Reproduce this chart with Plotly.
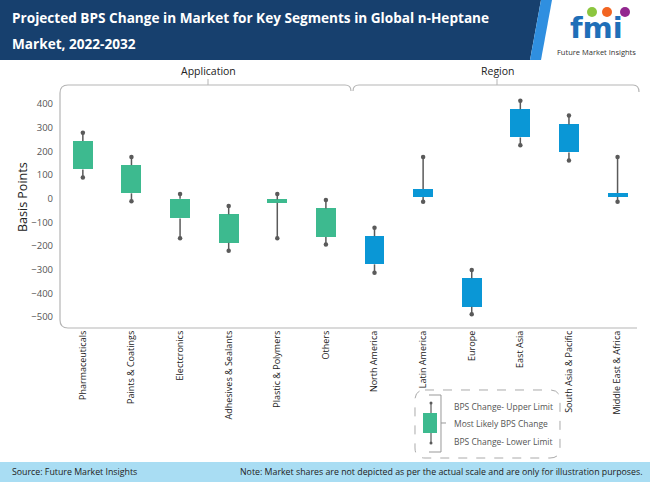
import plotly.graph_objects as go

categories = ["Pharmaceuticals", "Paints & Coatings", "Electronics", "Adhesives & Sealants",
              "Plastic & Polymers", "Others", "North America", "Latin America", "Europe",
              "East Asia", "South Asia & Pacific", "Middle East & Africa"]
tick_labels = ["Pharmaceuticals", "Paints & Coatings", "Electcronics", "Adhesives & Sealants",
               "Plastic & Polymers", "Others", "North America", "Latin America", "Europe",
               "East Asia", "South Asia & Pacific", "Middle East & Africa"]
segment = ["Application"] * 6 + ["Region"] * 6
upper = [279, 177, 20, -31, 20, -5, -122, 177, -301, 414, 352, 177]
box_top = [244, 142, 0, -66, -3, -41, -158, 41, -336, 378, 314, 24]
box_bottom = [124, 23, -83, -186, -17, -161, -277, 8, -456, 259, 196, 8]
lower = [90, -10, -167, -220, -167, -193, -313, -13, -488, 226, 162, -13]
y_ticks = [-500, -400, -300, -200, -100, 0, 100, 200, 300, 400]

GREEN = "#3dba8f"
BLUE = "#0a97d6"
WHISK = "#5a5a5a"
colors = [GREEN if s == "Application" else BLUE for s in segment]

W, H = 650, 482
L, R, T, B = 60, 13, 88, 154
PW, PH = W - L - R, H - T - B


def fx(px):
    return (px - L) / PW


def fy(py):
    return (H - B - py) / PH


def P(x, y):
    return f"{fx(x):.5f},{fy(y):.5f}"


fig = go.Figure()

# whiskers (upper and lower segments)
wx, wy = [], []
for c, u, bt, bb, lo in zip(categories, upper, box_top, box_bottom, lower):
    wx += [c, c, None, c, c, None]
    wy += [u, bt, None, bb, lo, None]
fig.add_trace(go.Scatter(x=wx, y=wy, mode="lines", line=dict(color=WHISK, width=1.5),
                         hoverinfo="skip", showlegend=False))
fig.add_trace(go.Scatter(x=categories + categories, y=upper + lower, mode="markers",
                         marker=dict(color=WHISK, size=4.5), hoverinfo="skip", showlegend=False))

fig.add_trace(go.Bar(x=categories, y=[t - b for t, b in zip(box_top, box_bottom)], base=box_bottom,
                     width=0.41, marker=dict(color=colors, line=dict(width=0)), showlegend=False))

shapes = []
line_col = "#b5b5b5"
# header
shapes.append(dict(type="path", xref="paper", yref="paper", layer="above",
                   path=f"M{P(0,0)} L{P(541,0)} L{P(530,60)} L{P(0,60)} Z",
                   fillcolor="#17406e", line=dict(width=0)))
shapes.append(dict(type="path", xref="paper", yref="paper", layer="above",
                   path=f"M{P(541,0)} L{P(552,0)} L{P(541,60)} L{P(530,60)} Z",
                   fillcolor="#2f8fe0", line=dict(width=0)))
# footer
shapes.append(dict(type="rect", xref="paper", yref="paper", layer="below",
                   x0=fx(0), x1=fx(650), y0=fy(482), y1=fy(462),
                   fillcolor="#a9ddf3", line=dict(width=0)))
# axis frame + brackets
shapes.append(dict(type="path", xref="paper", yref="paper",
                   path=f"M{P(68,328)} Q{P(60,328)} {P(60,320)} L{P(60,93)} Q{P(60,85)} {P(68,85)} "
                        f"L{P(345,85)} Q{P(351,85)} {P(351,91)}",
                   line=dict(color=line_col, width=1.2)))
shapes.append(dict(type="path", xref="paper", yref="paper",
                   path=f"M{P(353,91)} Q{P(353,85)} {P(359,85)} L{P(633,85)} Q{P(639,85)} {P(639,92)}",
                   line=dict(color=line_col, width=1.2)))
shapes.append(dict(type="line", xref="paper", yref="paper", x0=fx(68), x1=fx(637), y0=fy(328), y1=fy(328),
                   line=dict(color=line_col, width=1.2)))
shapes.append(dict(type="line", xref="paper", yref="paper", x0=fx(208), x1=fx(208), y0=fy(85), y1=fy(79),
                   line=dict(color=line_col, width=1)))
shapes.append(dict(type="line", xref="paper", yref="paper", x0=fx(497), x1=fx(497), y0=fy(85), y1=fy(79),
                   line=dict(color=line_col, width=1)))
# legend box
shapes.append(dict(type="path", xref="paper", yref="paper",
                   path=f"M{P(425,390)} L{P(550,390)} Q{P(560,390)} {P(560,400)} L{P(560,448)} "
                        f"Q{P(560,458)} {P(550,458)} L{P(425,458)} Q{P(415,458)} {P(415,448)} "
                        f"L{P(415,400)} Q{P(415,390)} {P(425,390)} Z",
                   line=dict(color="#aaaaaa", width=1, dash="dash")))
shapes.append(dict(type="line", xref="paper", yref="paper", x0=fx(431), x1=fx(431), y0=fy(403), y1=fy(443),
                   line=dict(color=WHISK, width=1.2)))
shapes.append(dict(type="rect", xref="paper", yref="paper", x0=fx(423), x1=fx(437), y0=fy(433), y1=fy(413),
                   fillcolor=GREEN, line=dict(width=0)))
for yy in (403, 443):
    shapes.append(dict(type="circle", xref="paper", yref="paper", x0=fx(429.5), x1=fx(432.5),
                       y0=fy(yy + 1.5), y1=fy(yy - 1.5), fillcolor=WHISK, line=dict(width=0)))
shapes.append(dict(type="path", xref="paper", yref="paper",
                   path=f"M{P(429,395)} L{P(441,395)} L{P(441,452)} L{P(429,452)} M{P(441,423)} L{P(446,423)}",
                   line=dict(color="#999999", width=1)))
# logo circles
for cx, col in ((592, "#8cc63f"), (607, "#f26522"), (625, "#92278f")):
    shapes.append(dict(type="circle", xref="paper", yref="paper", x0=fx(cx - 5), x1=fx(cx + 5),
                       y0=fy(17), y1=fy(7), fillcolor=col, line=dict(width=0)))

ann = []
FONT = "Open Sans"
ann.append(dict(text="<b>Projected BPS Change in Market for Key Segments in Global n-Heptane</b>",
                x=fx(10), y=fy(18), xref="paper", yref="paper", xanchor="left", yanchor="middle",
                showarrow=False, font=dict(family=FONT, size=13.6, color="white")))
ann.append(dict(text="<b>Market, 2022-2032</b>",
                x=fx(10), y=fy(43), xref="paper", yref="paper", xanchor="left", yanchor="middle",
                showarrow=False, font=dict(family=FONT, size=13.6, color="white")))
ann.append(dict(text="<b>fmi</b>", x=fx(596), y=fy(28), xref="paper", yref="paper",
                xanchor="center", yanchor="middle", showarrow=False,
                font=dict(family="DejaVu Sans", size=29, color="#1f6fb8")))
ann.append(dict(text="Future Market Insights", x=fx(596), y=fy(52), xref="paper", yref="paper",
                xanchor="center", yanchor="middle", showarrow=False,
                font=dict(family=FONT, size=7.5, color="#333333")))
ann.append(dict(text="Application", x=fx(208), y=fy(71), xref="paper", yref="paper",
                xanchor="center", yanchor="middle", showarrow=False,
                font=dict(family=FONT, size=10.5, color="#222222")))
ann.append(dict(text="Region", x=fx(497), y=fy(71), xref="paper", yref="paper",
                xanchor="center", yanchor="middle", showarrow=False,
                font=dict(family=FONT, size=10.5, color="#222222")))
ann.append(dict(text="Basis Points", x=fx(22), y=fy(197), xref="paper", yref="paper", textangle=-90,
                xanchor="center", yanchor="middle", showarrow=False,
                font=dict(family=FONT, size=12.5, color="#222222")))
for txt, yy in (("BPS Change- Upper Limit", 406), ("Most Likely BPS Change", 423),
                ("BPS Change- Lower Limit", 441)):
    ann.append(dict(text=txt, x=fx(452), y=fy(yy), xref="paper", yref="paper",
                    xanchor="left", yanchor="middle", showarrow=False,
                    font=dict(family=FONT, size=8.5, color="#555555")))
ann.append(dict(text="Source: Future Market Insights", x=fx(10), y=fy(472), xref="paper", yref="paper",
                xanchor="left", yanchor="middle", showarrow=False,
                font=dict(family=FONT, size=8.8, color="#222222")))
ann.append(dict(text="Note: Market shares are not depicted as per the actual scale and are only for illustration purposes.",
                x=fx(645), y=fy(472), xref="paper", yref="paper",
                xanchor="right", yanchor="middle", showarrow=False,
                font=dict(family=FONT, size=8.8, color="#222222")))

fig.update_layout(
    width=W, height=H, autosize=False,
    margin=dict(l=L, r=R, t=T, b=B, pad=0),
    paper_bgcolor="white", plot_bgcolor="white",
    shapes=shapes, annotations=ann, bargap=0,
    xaxis=dict(type="category", categoryorder="array", categoryarray=categories,
               tickvals=categories, ticktext=tick_labels, range=[-0.47, 11.4],
               tickangle=-90, showgrid=False, zeroline=False, showline=False, ticks="",
               tickfont=dict(family=FONT, size=9, color="#222222"), fixedrange=True),
    yaxis=dict(range=[-546, 468], tickvals=y_ticks, showgrid=False, zeroline=False,
               showline=False, ticks="", ticklabelstandoff=6,
               tickfont=dict(family=FONT, size=9.5, color="#555555"), fixedrange=True),
    font=dict(family=FONT),
)

fig.write_html("out.html", config={"displayModeBar": False},
               post_script="document.body.style.margin='0';document.body.style.overflow='hidden';")
